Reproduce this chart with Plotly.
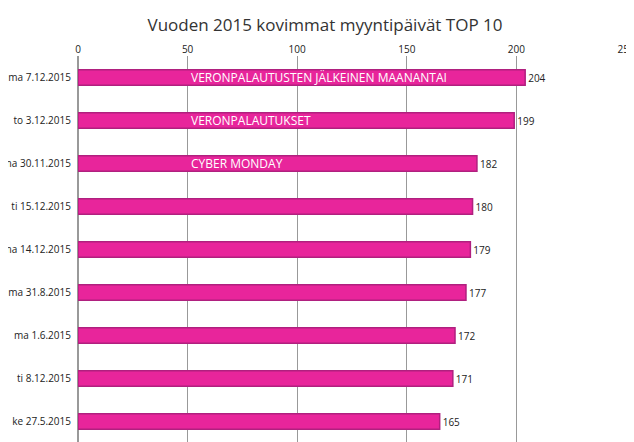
import plotly.graph_objects as go

paivat = ["ma 7.12.2015", "to 3.12.2015", "ma 30.11.2015", "ti 15.12.2015", "ma 14.12.2015",
          "ma 31.8.2015", "ma 1.6.2015", "ti 8.12.2015", "ke 27.5.2015"]
myynti = [204, 199, 182, 180, 179, 177, 172, 171, 165]
selitteet = ["VERONPALAUTUSTEN JÄLKEINEN MAANANTAI", "VERONPALAUTUKSET", "CYBER MONDAY",
             "", "", "", "", "", ""]

fig = go.Figure()
fig.add_trace(go.Bar(
    y=paivat, x=myynti, orientation="h",
    marker=dict(color="#e8259b", line=dict(color="#b0207f", width=1.5)),
    text=myynti, textposition="outside",
    textfont=dict(family="Open Sans", size=10, color="#222"),
    cliponaxis=False, width=0.36,
))
for p, s in zip(paivat, selitteet):
    if s:
        fig.add_annotation(x=50, y=p, text=s, showarrow=False, xanchor="left",
                           xshift=1, font=dict(family="Open Sans", size=12, color="white"))

fig.update_layout(
    width=634, height=442,
    title=dict(text="Vuoden 2015 kovimmat myyntipäivät TOP 10", x=0.5, y=0.975,
               font=dict(family="Open Sans", size=17, color="#333")),
    margin=dict(l=70, r=16, t=48, b=7),
    plot_bgcolor="white", paper_bgcolor="white", showlegend=False,
    xaxis=dict(side="top", range=[0, 250], dtick=50, showgrid=True, gridcolor="#999",
               gridwidth=1, zeroline=True, zerolinecolor="#999", automargin=False,
               tickfont=dict(family="Open Sans", size=10, color="#222")),
    yaxis=dict(autorange="reversed", automargin=False, ticklabelstandoff=6,
               tickfont=dict(family="Open Sans", size=10, color="#222")),
)
fig.write_html("out.html")
